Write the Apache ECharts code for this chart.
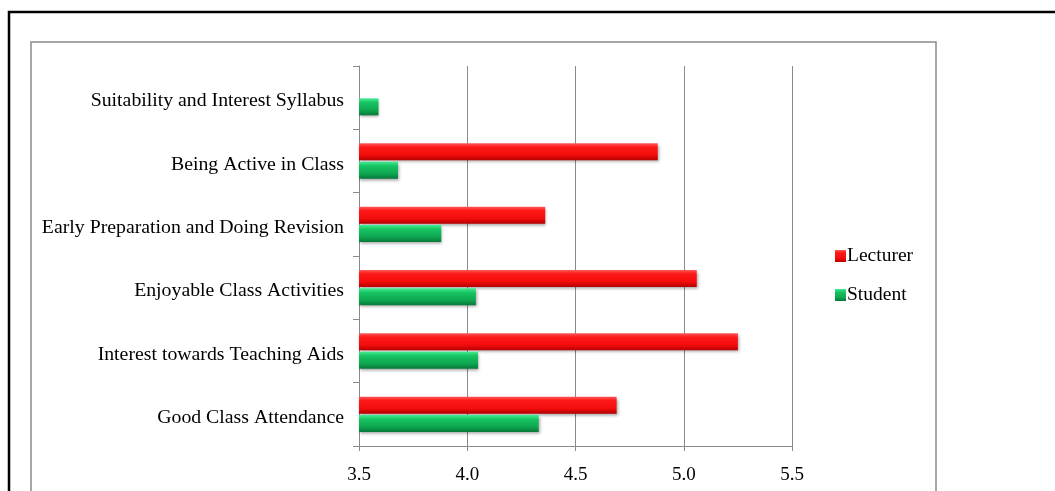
<!DOCTYPE html>
<html>
<head>
<meta charset="utf-8">
<script src="https://cdn.jsdelivr.net/npm/echarts@6/dist/echarts.min.js"></script>
<style>
html,body{margin:0;padding:0;background:#fff;}
#chart{width:1055px;height:491px;}
</style>
</head>
<body>
<div id="chart"></div>
<script>
var categories = ['Good Class Attendance','Interest towards Teaching Aids','Enjoyable Class Activities','Early Preparation and Doing Revision','Being Active in Class','Suitability and Interest Syllabus'];
var lecturer = [4.69, 5.25, 5.06, 4.36, 4.88, null];
var student = [4.33, 4.05, 4.04, 3.88, 3.68, 3.59];
var xTicks = [3.5, 4.0, 4.5, 5.0, 5.5];
var seriesNames = ['Lecturer', 'Student'];

var chart = echarts.init(document.getElementById('chart'));
var G = echarts.graphic.LinearGradient;
var redFill = new G(0,0,0,1,[{offset:0,color:'#ff5a5a'},{offset:0.22,color:'#ff1a1a'},{offset:0.7,color:'#f20c0c'},{offset:1,color:'#b50000'}]);
var greenFill = new G(0,0,0,1,[{offset:0,color:'#45ec92'},{offset:0.25,color:'#16c462'},{offset:0.7,color:'#0ea650'},{offset:1,color:'#07783a'}]);
var font = 'Liberation Serif';
var axisGray = '#8a8a8a';

chart.setOption({
  animation: false,
  backgroundColor: '#fff',
  graphic: [
    {type:'rect', z:0, shape:{x:9,y:12,width:1100,height:600}, style:{fill:'none',stroke:'#000',lineWidth:2.5}},
    {type:'rect', z:0, shape:{x:31,y:42,width:905,height:600}, style:{fill:'none',stroke:'#8a8a8a',lineWidth:1.5}}
  ],
  legend: {
    data: seriesNames,
    orient: 'vertical',
    left: 835,
    top: 246,
    padding: 0,
    itemWidth: 11,
    itemHeight: 12,
    itemGap: 19,
    icon: 'rect',
    textStyle: {fontFamily: font, fontSize: 19.5, color: '#000', padding:[0,0,0,-4], lineHeight: 20}
  },
  grid: {left: 359, top: 66, right: 263, bottom: 45, containLabel: false},
  xAxis: {
    type: 'value',
    min: xTicks[0],
    max: xTicks[xTicks.length-1],
    interval: 0.5,
    axisLine: {show: true, lineStyle: {color: axisGray, width: 1}},
    axisTick: {show: true, length: 5, lineStyle: {color: axisGray}},
    splitLine: {show: true, lineStyle: {color: axisGray, width: 1}},
    axisLabel: {margin: 20, fontFamily: font, fontSize: 19, color: '#000', formatter: function(v){return v.toFixed(1);}}
  },
  yAxis: {
    type: 'category',
    data: categories,
    axisLine: {show: true, lineStyle: {color: axisGray, width: 1}},
    axisTick: {show: true, length: 6, lineStyle: {color: axisGray}},
    splitLine: {show: false},
    axisLabel: {margin: 15, fontFamily: font, fontSize: 19.8, color: '#000', verticalAlign: 'top', lineHeight: 7}
  },
  series: [
    {name: seriesNames[0], type: 'bar', data: lecturer, barWidth: 17, barGap: '8%',
     itemStyle: {color: redFill, shadowColor:'rgba(0,0,0,0.35)', shadowBlur:3, shadowOffsetX:1, shadowOffsetY:2}},
    {name: seriesNames[1], type: 'bar', data: student, barWidth: 17, barGap: '8%',
     itemStyle: {color: greenFill, shadowColor:'rgba(0,0,0,0.35)', shadowBlur:3, shadowOffsetX:1, shadowOffsetY:2}}
  ]
});
</script>
</body>
</html>
